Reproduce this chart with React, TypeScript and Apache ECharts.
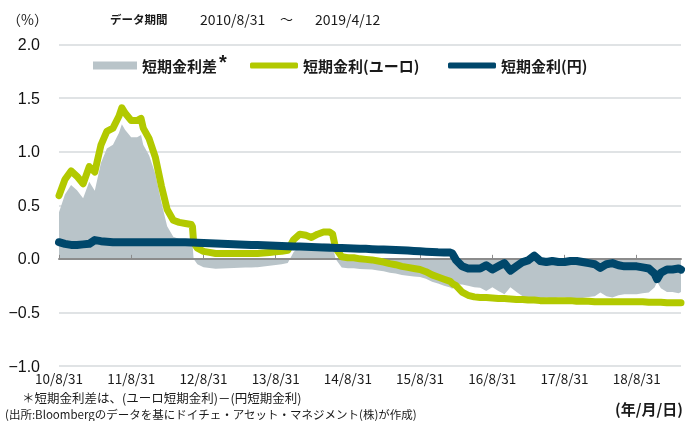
import React, { useEffect, useRef } from 'react';
import * as echarts from 'echarts';

const dates = [
  '2010-08-31', '2010-09-30', '2010-10-31', '2010-11-30', '2010-12-31',
  '2011-01-31', '2011-02-28', '2011-03-31', '2011-04-30', '2011-05-31', '2011-06-30', '2011-07-15', '2011-07-31',
  '2011-08-31', '2011-09-30', '2011-10-20', '2011-10-31', '2011-11-30', '2011-12-31',
  '2012-01-31', '2012-02-29', '2012-03-31', '2012-04-30', '2012-05-31', '2012-06-30', '2012-07-06', '2012-07-12', '2012-07-31',
  '2012-08-31', '2012-09-30', '2012-10-31', '2012-11-30', '2012-12-31',
  '2013-01-31', '2013-02-28', '2013-03-31', '2013-04-30', '2013-05-31', '2013-06-30', '2013-07-31',
  '2013-08-31', '2013-09-30', '2013-10-31', '2013-11-30', '2013-12-31',
  '2014-01-31', '2014-02-28', '2014-03-31', '2014-04-30', '2014-05-31', '2014-06-15', '2014-06-30', '2014-07-31',
  '2014-08-31', '2014-09-30', '2014-10-31', '2014-11-30', '2014-12-31',
  '2015-01-31', '2015-02-28', '2015-03-31', '2015-04-30', '2015-05-31', '2015-06-30', '2015-07-31',
  '2015-08-31', '2015-09-30', '2015-10-31', '2015-11-30', '2015-12-31',
  '2016-01-31', '2016-02-10', '2016-02-29', '2016-03-31', '2016-04-30', '2016-05-31', '2016-06-30', '2016-07-31',
  '2016-08-31', '2016-09-30', '2016-10-31', '2016-11-30', '2016-12-31',
  '2017-01-31', '2017-02-28', '2017-03-31', '2017-04-30', '2017-05-31', '2017-06-30', '2017-07-31',
  '2017-08-31', '2017-09-30', '2017-10-31', '2017-11-30', '2017-12-31',
  '2018-01-31', '2018-02-28', '2018-03-31', '2018-04-30', '2018-05-31', '2018-06-30', '2018-07-31',
  '2018-08-31', '2018-09-30', '2018-10-31', '2018-11-30', '2018-12-12', '2018-12-31',
  '2019-01-31', '2019-02-28', '2019-03-31', '2019-04-12',
];

const euroRate = [
  0.59, 0.74, 0.82, 0.77, 0.70,
  0.86, 0.81, 1.06, 1.19, 1.22, 1.33, 1.41, 1.36,
  1.29, 1.29, 1.31, 1.22, 1.12, 0.95,
  0.68, 0.46, 0.36, 0.34, 0.33, 0.32, 0.30, 0.15, 0.10,
  0.07, 0.06, 0.05, 0.05, 0.05,
  0.05, 0.05, 0.05, 0.05, 0.05, 0.055, 0.06,
  0.065, 0.07, 0.08, 0.18, 0.23,
  0.22, 0.20, 0.23, 0.25, 0.25, 0.23, 0.10, 0.02,
  0.01, 0.01, 0.00, -0.005, -0.01,
  -0.02, -0.03, -0.045, -0.055, -0.07, -0.08, -0.09,
  -0.10, -0.12, -0.15, -0.17, -0.19,
  -0.21, -0.23, -0.25, -0.31, -0.34, -0.355, -0.36, -0.36,
  -0.365, -0.37, -0.37, -0.375, -0.38,
  -0.38, -0.385, -0.385, -0.39, -0.39, -0.39, -0.39,
  -0.39, -0.39, -0.395, -0.395, -0.395,
  -0.40, -0.40, -0.40, -0.40, -0.40, -0.40, -0.40,
  -0.40, -0.40, -0.405, -0.405, -0.405, -0.405,
  -0.41, -0.41, -0.41, -0.41,
];

const yenRate = [
  0.155, 0.14, 0.13, 0.13, 0.135,
  0.14, 0.175, 0.165, 0.16, 0.155, 0.155, 0.155, 0.155,
  0.155, 0.155, 0.155, 0.155, 0.155, 0.155,
  0.155, 0.155, 0.155, 0.155, 0.155, 0.152, 0.152, 0.152, 0.15,
  0.148, 0.145, 0.142, 0.14, 0.138,
  0.136, 0.134, 0.132, 0.13, 0.128, 0.126, 0.124,
  0.122, 0.12, 0.118, 0.116, 0.114,
  0.112, 0.11, 0.108, 0.106, 0.104, 0.103, 0.102, 0.10,
  0.098, 0.097, 0.095, 0.093, 0.09,
  0.088, 0.086, 0.084, 0.082, 0.08, 0.077, 0.074,
  0.07, 0.067, 0.064, 0.061, 0.06,
  0.058, 0.05, -0.01, -0.07, -0.09, -0.09, -0.09, -0.06,
  -0.10, -0.07, -0.04, -0.11, -0.07,
  -0.03, -0.015, 0.03, -0.02, -0.03, -0.02, -0.03,
  -0.03, -0.02, -0.02, -0.03, -0.04,
  -0.05, -0.085, -0.05, -0.04, -0.06, -0.07, -0.07,
  -0.07, -0.08, -0.09, -0.14, -0.19, -0.13,
  -0.10, -0.10, -0.09, -0.10,
];

const xTickYears = [0, 1, 2, 3, 4, 5, 6, 7, 8];
const xTickLabels = ['10/8/31', '11/8/31', '12/8/31', '13/8/31', '14/8/31', '15/8/31', '16/8/31', '17/8/31', '18/8/31'];

const seriesNames = ['短期金利差', '短期金利(ユーロ)', '短期金利(円)'];
const periodStart = '2010/8/31';
const periodEnd = '2019/4/12';

const GRAY = '#b9c4c9';
const GREEN = '#b2c900';
const NAVY = '#00476b';
const JP = '"Noto Sans CJK JP", "Noto Sans", sans-serif';
const LAT = '"Liberation Sans", Arial, sans-serif';

const START = Date.UTC(2010, 7, 31);
function toYears(d: string): number {
  const [y, m, dd] = d.split('-').map(Number);
  return (Date.UTC(y, m - 1, dd) - START) / (365.25 * 86400000);
}

export default function App() {
  const ref = useRef<HTMLDivElement>(null);
  useEffect(() => {
    if (!ref.current) return;
    const chart = echarts.init(ref.current, undefined, { renderer: 'svg' });
    const xs = dates.map(toYears);
    const maxX = xs[xs.length - 1];
    const spread = euroRate.map((e, i) => +(e - yenRate[i]).toFixed(3));

    const legendBase = {
      orient: 'horizontal',
      selectedMode: false,
      padding: 0,
      top: 56.5,
      textStyle: { fontSize: 15, fontWeight: 'bold', color: '#1a1a1a', fontFamily: JP, lineHeight: 18 },
    };

    const txt = (t: string, size: number, bold = false) => ({
      text: t,
      fontSize: size,
      lineHeight: Math.round(size),
      fontWeight: bold ? 'bold' : 'normal',
      fontFamily: JP,
      fill: '#1a1a1a',
    });

    chart.setOption({
      animation: false,
      grid: { left: 59, right: 10, top: 44.5, bottom: 55, outerBoundsMode: 'none' },
      legend: [
        { ...legendBase, left: 93, data: [seriesNames[0]], icon: 'rect', itemWidth: 44, itemHeight: 8 },
        { ...legendBase, left: 250, data: [seriesNames[1]], icon: 'roundRect', itemWidth: 48, itemHeight: 6 },
        { ...legendBase, left: 448, data: [seriesNames[2]], icon: 'roundRect', itemWidth: 48, itemHeight: 6 },
      ],
      xAxis: [
        {
          type: 'value',
          min: 0,
          max: maxX,
          interval: 1,
          position: 'bottom',
          axisLine: { show: false, onZero: false },
          axisTick: { show: false },
          splitLine: { show: false },
          axisLabel: {
            customValues: xTickYears,
            formatter: (v: number) => {
              const i = Math.round(v);
              return Math.abs(v - i) < 1e-6 && xTickLabels[i] ? xTickLabels[i] : '';
            },
            fontSize: 13.5,
            lineHeight: 14,
            color: '#1a1a1a',
            fontFamily: JP,
            margin: 5,
          },
        },
        {
          type: 'value',
          min: 0,
          max: maxX,
          interval: 1,
          position: 'bottom',
          z: 3,
          axisLine: { show: true, onZero: true, lineStyle: { color: '#8c8c8c', width: 2 } },
          axisTick: { show: true, inside: true, length: 4, customValues: xTickYears, lineStyle: { color: '#8c8c8c', width: 1 } },
          axisLabel: { show: false },
          splitLine: { show: false },
        },
      ],
      yAxis: {
        type: 'value',
        min: -1,
        max: 2,
        interval: 0.5,
        axisLine: { show: false },
        axisTick: { show: false },
        splitLine: { show: true, lineStyle: { color: '#d6dadd', width: 1.5 } },
        axisLabel: {
          margin: 19,
          fontSize: 16,
          color: '#111',
          fontFamily: LAT,
          formatter: (v: number) => v.toFixed(1).replace('-', '\u2212'),
        },
      },
      series: [
        {
          name: seriesNames[0],
          type: 'line',
          data: xs.map((x, i) => [x, spread[i]]),
          symbol: 'none',
          showSymbol: false,
          lineStyle: { width: 0, color: GRAY },
          itemStyle: { color: GRAY },
          areaStyle: { color: GRAY, opacity: 1 },
          z: 2,
        },
        {
          name: seriesNames[1],
          type: 'line',
          data: xs.map((x, i) => [x, euroRate[i]]),
          symbol: 'none',
          showSymbol: false,
          lineStyle: { width: 7, color: GREEN, cap: 'round', join: 'round' },
          itemStyle: { color: GREEN },
          z: 5,
        },
        {
          name: seriesNames[2],
          type: 'line',
          data: xs.map((x, i) => [x, yenRate[i]]),
          symbol: 'none',
          showSymbol: false,
          lineStyle: { width: 8, color: NAVY, cap: 'round', join: 'round' },
          itemStyle: { color: NAVY },
          z: 6,
        },
      ],
      graphic: [
        { type: 'text', left: 7, top: 12, style: txt('（%）', 14) },
        { type: 'text', left: 110, top: 13, style: txt('データ期間', 11.5, true) },
        { type: 'text', left: 200, top: 12, style: txt(periodStart, 14) },
        { type: 'text', left: 280, top: 12, style: txt('～', 13) },
        { type: 'text', left: 315, top: 12, style: txt(periodEnd, 14) },
        { type: 'text', x: 223, y: 62, style: { text: '*', fontSize: 20, fontWeight: 'bold', fontFamily: LAT, fill: '#1a1a1a', align: 'center', verticalAlign: 'middle' } },
        { type: 'text', left: 22, top: 390.5, style: txt('＊短期金利差は、(ユーロ短期金利)－(円短期金利)', 12.5) },
        { type: 'text', left: 5, top: 408, style: txt('(出所:Bloombergのデータを基にドイチェ・アセット・マネジメント(株)が作成)', 11.5) },
        { type: 'text', right: 8, top: 401, style: txt('(年/月/日)', 15, true) },
      ],
    });
    return () => chart.dispose();
  }, []);
  return <div ref={ref} style={{ position: 'fixed', left: 0, top: 0, width: 691, height: 421 }} />;
}
